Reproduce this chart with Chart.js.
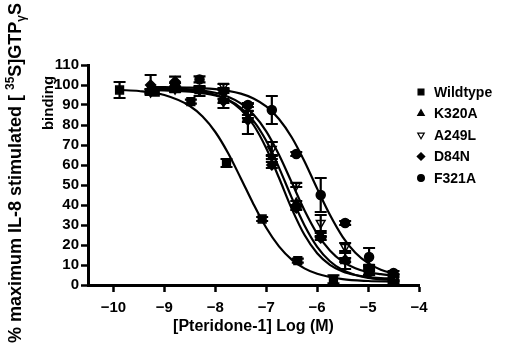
<!DOCTYPE html>
<html>
<head>
<meta charset="utf-8">
<script src="https://cdn.jsdelivr.net/npm/chart.js@4.4.1/dist/chart.umd.min.js"></script>
<style>
  html, body { margin: 0; padding: 0; background: #fff; }
  #wrap { width: 505px; height: 350px; }
</style>
</head>
<body>
<div id="wrap"><canvas id="chart" width="505" height="350"></canvas></div>
<script>
// concentrations (log M)
const wtX = [-9.88, -9.18, -8.48, -7.78, -7.08, -6.38, -5.68];
const mutX = [-9.27, -8.79, -8.31, -7.84, -7.36, -6.89, -6.41, -5.93, -5.45, -4.98, -4.5];

// measured points (% max binding) and SEM
const wildtype = [97.5, 96.5, 91.7, 61, 33, 12.2, 2.8];
const wildtypeErr = [4, 1, 1, 2, 1, 1, 2];
const k320a = [97, 97.5, 97, 93, 83, 64, 41, 25, 12, 7, 1.5];
const k320aErr = [1, 1, 2.5, 4.5, 7.5, 1, 1, 1, 4, 2, 1];
const a249l = [96.5, 98, 98, 99.5, 86, 68, 50, 31, 19, 9, 3.5];
const a249lErr = [1, 1, 1, 1, 1, 3.5, 1, 4, 2, 1, 2];
const d84n = [100, 101.7, 97.5, 92, 82.5, 60, 38.5, 23.5, 12.5, 6, 3];
const d84nErr = [5, 2.5, 1, 1, 1, 1.5, 1, 1, 1, 1, 1];
const f321a = [97, 100, 102.8, 97, 90, 87.5, 65.5, 45, 31, 14, 6];
const f321aErr = [1, 1, 1.5, 1, 1, 7, 1, 8.5, 1, 4.5, 1];

// fitted curves
const wtCurveX = [-9.88, -9.5, -9, -8.5, -8.25, -8, -7.75, -7.5, -7.25, -7, -6.75, -6.5, -6.25, -6, -5.5, -5, -4.5];
const wildtypeCurve = [97.5, 97.0, 95.0, 89.5, 84.2, 76.5, 66.0, 53.4, 40.4, 28.6, 19.3, 12.7, 8.3, 5.6, 2.9, 2.0, 1.7];
const curveX = [-9.27, -9, -8.5, -8, -7.75, -7.5, -7.25, -7, -6.75, -6.5, -6.25, -6, -5.75, -5.5, -5.25, -5, -4.75, -4.5];
const k320aCurve = [97.4, 97.3, 96.7, 94.8, 92.6, 88.6, 82.1, 72.1, 58.7, 43.7, 29.9, 19.1, 11.9, 7.5, 5.0, 3.6, 2.9, 2.5];
const a249lCurve = [98.4, 98.3, 97.8, 96.1, 94.1, 90.8, 85.2, 76.8, 65.1, 51.3, 37.4, 25.7, 17.3, 11.7, 8.4, 6.4, 5.4, 4.7];
const d84nCurve = [97.9, 97.8, 97.2, 95.1, 92.5, 87.8, 80.0, 68.4, 53.6, 38.2, 25.1, 15.9, 10.1, 6.8, 5.0, 4.0, 3.5, 3.3];
const f321aCurve = [99.0, 98.9, 98.7, 97.9, 97.1, 95.7, 93.3, 89.3, 83.0, 73.9, 61.9, 48.2, 35.1, 24.1, 16.1, 10.9, 7.6, 5.6];

const xTicks = [-10, -9, -8, -7, -6, -5, -4];
const seriesNames = ["Wildtype", "K320A", "A249L", "D84N", "F321A"];

const pts = (xs, ys) => xs.map((x, i) => ({ x: x, y: ys[i] }));
const FONT = '"Liberation Sans", Arial, sans-serif';

function pointSet(name, xs, ys, errs, style, radius, rotation, fill) {
    return {
        type: 'scatter',
        label: name,
        data: pts(xs, ys),
        errors: errs,
        pointStyle: style,
        pointRadius: radius,
        pointRotation: rotation,
        pointBackgroundColor: fill,
        pointBorderColor: '#000',
        pointBorderWidth: 1.5,
        showLine: false,
        isPoints: true
    };
}

function curveSet(xs, ys) {
    return {
        type: 'line',
        label: '',
        data: pts(xs, ys),
        borderColor: '#000',
        borderWidth: 2.2,
        pointRadius: 0,
        cubicInterpolationMode: 'monotone',
        fill: false
    };
}

const errorBars = {
    id: 'errorBars',
    afterDatasetsDraw(chart) {
        const ctx = chart.ctx;
        const xs = chart.scales.x, ys = chart.scales.y;
        ctx.save();
        ctx.strokeStyle = '#000';
        ctx.lineWidth = 2.2;
        chart.data.datasets.forEach(ds => {
            if (!ds.errors) return;
            ds.data.forEach((p, i) => {
                const e = ds.errors[i];
                if (!e) return;
                const px = xs.getPixelForValue(p.x);
                const top = ys.getPixelForValue(p.y + e);
                const bot = ys.getPixelForValue(p.y - e);
                ctx.beginPath();
                ctx.moveTo(px, top); ctx.lineTo(px, bot);
                ctx.moveTo(px - 6, top); ctx.lineTo(px + 6, top);
                ctx.moveTo(px - 6, bot); ctx.lineTo(px + 6, bot);
                ctx.stroke();
            });
        });
        ctx.restore();
    }
};

const sideText = {
    id: 'sideText',
    afterDraw(chart) {
        const ctx = chart.ctx;
        ctx.save();
        ctx.fillStyle = '#000';
        // y axis title, rotated
        const big = 'bold 18px ' + FONT;
        const small = 'bold 12px ' + FONT;
        const parts = [
            { t: '% maximum IL-8 stimulated [ ', f: big, dy: 0 },
            { t: '35', f: small, dy: -7 },
            { t: 'S]GTP', f: big, dy: 0 },
            { t: 'γ', f: small, dy: 4 },
            { t: 'S', f: big, dy: 0 }
        ];
        let total = 0;
        parts.forEach(p => { ctx.font = p.f; p.w = ctx.measureText(p.t).width; total += p.w; });
        ctx.translate(21, 173);
        ctx.rotate(-Math.PI / 2);
        ctx.textBaseline = 'alphabetic';
        let cx = -total / 2;
        parts.forEach(p => {
            ctx.font = p.f;
            ctx.fillText(p.t, cx, p.dy);
            cx += p.w;
        });
        ctx.font = 'bold 15px ' + FONT;
        ctx.textAlign = 'center';
        ctx.fillText('binding', 70, 32);
        ctx.restore();

        // legend
        ctx.save();
        ctx.font = 'bold 14px ' + FONT;
        ctx.textBaseline = 'middle';
        let row = 0;
        chart.data.datasets.forEach(ds => {
            if (!ds.isPoints) return;
            const y = 92 + row * 21.5;
            ctx.fillStyle = ds.pointBackgroundColor;
            ctx.strokeStyle = '#000';
            ctx.lineWidth = 1.2;
            Chart.helpers.drawPoint(ctx, {
                pointStyle: ds.pointStyle,
                radius: ds.pointRadius * 0.75,
                rotation: ds.pointRotation,
                borderWidth: 1.2
            }, 421, y);
            ctx.fillStyle = '#000';
            ctx.fillText(ds.label, 434, y + 1);
            row++;
        });
        ctx.restore();
    }
};

const ctx = document.getElementById('chart').getContext('2d');

new Chart(ctx, {
    data: {
        datasets: [
            curveSet(wtCurveX, wildtypeCurve),
            curveSet(curveX, k320aCurve),
            curveSet(curveX, a249lCurve),
            curveSet(curveX, d84nCurve),
            curveSet(curveX, f321aCurve),
            pointSet(seriesNames[0], wtX, wildtype, wildtypeErr, 'rect', 5.5, 0, '#000'),
            pointSet(seriesNames[1], mutX, k320a, k320aErr, 'triangle', 5, 0, '#000'),
            pointSet(seriesNames[2], mutX, a249l, a249lErr, 'triangle', 5, 180, '#fff'),
            pointSet(seriesNames[3], mutX, d84n, d84nErr, 'rectRot', 5, 0, '#000'),
            pointSet(seriesNames[4], mutX, f321a, f321aErr, 'circle', 4.5, 0, '#000')
        ]
    },
    options: {
        responsive: false,
        animation: false,
        devicePixelRatio: 1,
        layout: { padding: { left: 0, top: 65, right: 86, bottom: 14 } },
        plugins: {
            legend: { display: false },
            tooltip: { enabled: false }
        },
        scales: {
            x: {
                type: 'linear',
                min: -10.5,
                max: -4,
                afterBuildTicks: s => { s.ticks = xTicks.map(v => ({ value: v })); },
                afterFit: s => { s.height = 51; },
                border: { display: true, color: '#000', width: 3 },
                grid: { drawOnChartArea: false, drawTicks: true, tickLength: 7, tickWidth: 2.5, tickColor: '#000' },
                ticks: {
                    color: '#000',
                    padding: 7,
                    font: { family: FONT, size: 15, weight: 'bold' },
                    callback: v => String(v).replace('-', '\u2212')
                },
                title: {
                    display: true,
                    text: '[Pteridone-1] Log (M)',
                    color: '#000',
                    padding: { top: 0, bottom: 0 },
                    font: { family: FONT, size: 16, weight: 'bold' }
                }
            },
            y: {
                min: 0,
                max: 110,
                afterFit: s => { s.width = 88; },
                border: { display: true, color: '#000', width: 3 },
                grid: { drawOnChartArea: false, drawTicks: true, tickLength: 7, tickWidth: 2.5, tickColor: '#000' },
                ticks: {
                    stepSize: 10,
                    autoSkip: false,
                    color: '#000',
                    padding: 2,
                    font: { family: FONT, size: 15, weight: 'bold' }
                }
            }
        }
    },
    plugins: [errorBars, sideText]
});
</script>
</body>
</html>
